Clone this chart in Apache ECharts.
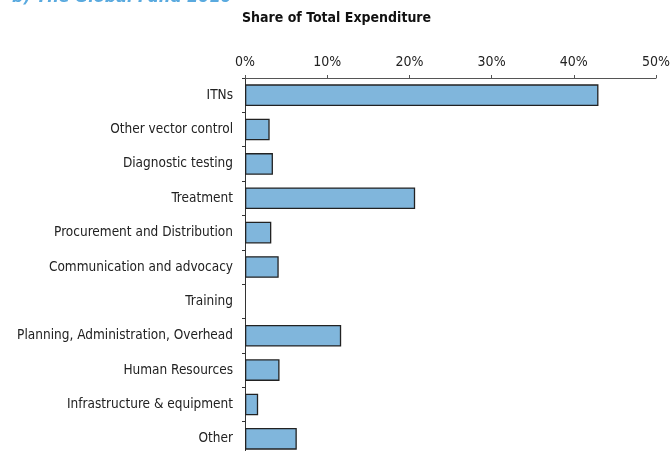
<!DOCTYPE html>
<html><head><meta charset="utf-8">
<script src="https://cdn.jsdelivr.net/npm/echarts@6/dist/echarts.min.js"></script>
<style>html,body{margin:0;padding:0;background:#fff}#c{width:671px;height:451px}</style>
</head><body><div id="c"></div>
<script>
var categories = ["ITNs","Other vector control","Diagnostic testing","Treatment","Procurement and Distribution","Communication and advocacy","Training","Planning, Administration, Overhead","Human Resources","Infrastructure & equipment","Other"];
var shares = [43.0, 3.0, 3.4, 20.7, 3.2, 4.1, 0, 11.7, 4.2, 1.6, 6.3];
var tickLabels = ["0%","10%","20%","30%","40%","50%"];
var FONT = "'Liberation Sans Narrow','DejaVu Sans Condensed','Roboto Condensed',sans-serif";
var chart = echarts.init(document.getElementById('c'));
chart.setOption({
  animation: false,
  graphic: [
    {type:'text', left: 12, top: -10, style:{text:'b) The Global Fund 2010', fill:'#5aaadf', font:"italic bold 16px 'DejaVu Sans',sans-serif"}},
    {type:'text', left: 242, top: 11, style:{text:'Share of Total Expenditure', fill:'#111', fontFamily:'DejaVu Sans Condensed', fontWeight:'bold', fontSize:14}}
  ],
  grid: {left: 245, top: 78, width: 411, height: 378, containLabel: false, outerBoundsMode: 'none'},
  xAxis: {
    type:'value', position:'top', min:0, max:50, interval:10,
    axisLine:{show:true, lineStyle:{color:'#555', width:1}},
    axisTick:{show:true, length:3, lineStyle:{color:'#555'}},
    splitLine:{show:false},
    axisLabel:{color:'#222', fontFamily:FONT, fontSize:14, margin:9, formatter:function(v){return tickLabels[v/10];}}
  },
  yAxis: {
    type:'category', inverse:true, data:categories,
    axisLine:{show:true, lineStyle:{color:'#333', width:1}},
    axisTick:{show:true, length:3, lineStyle:{color:'#333'}},
    axisLabel:{color:'#222', fontFamily:FONT, fontSize:13.5, margin:12}
  },
  series: [{
    type:'bar', barCategoryGap:'37%',
    data: shares.map(function(v){ return v === 0 ? {value:v, itemStyle:{borderWidth:0}} : v; }),
    itemStyle:{color:'#80b6dc', borderColor:'#222', borderWidth:1.3}
  }]
});
</script></body></html>
